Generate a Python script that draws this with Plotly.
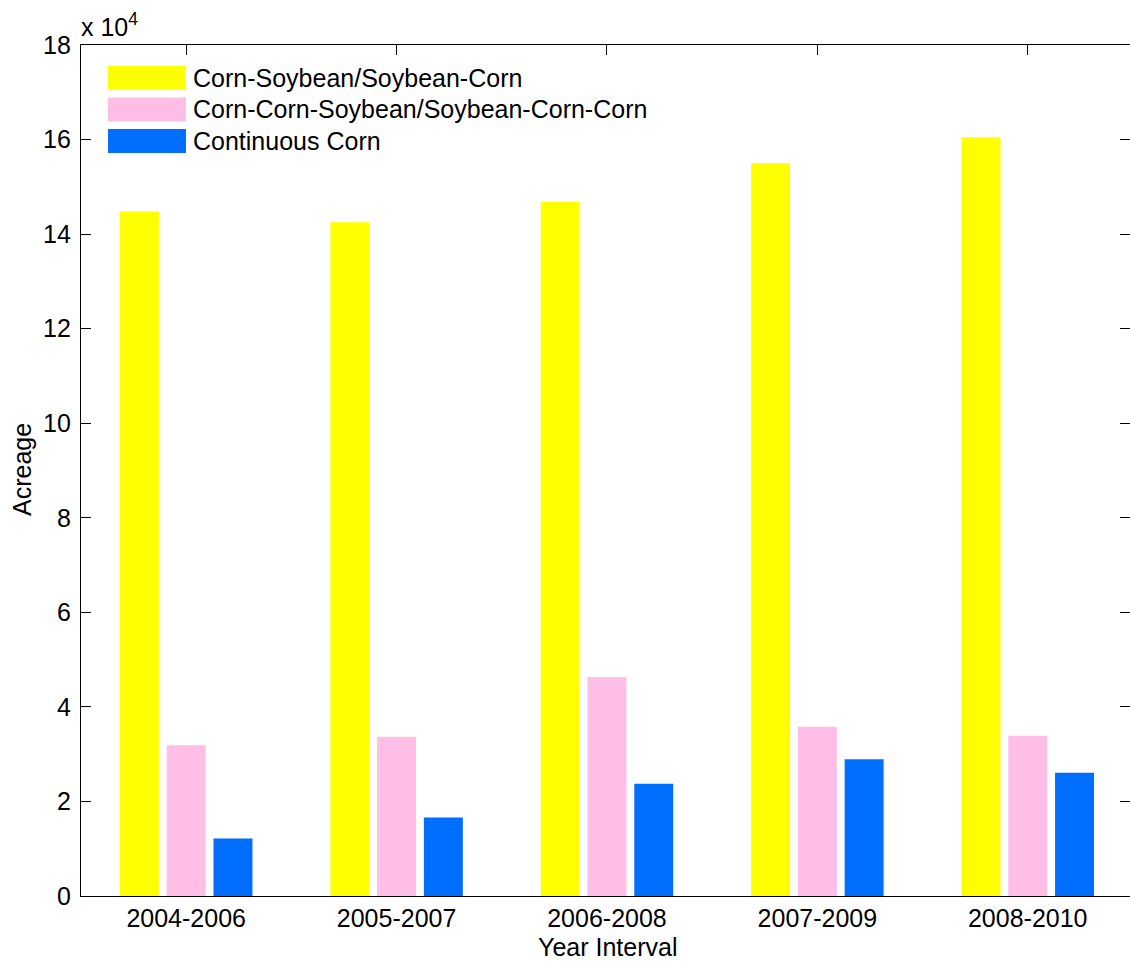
import plotly.graph_objects as go

categories = ["2004-2006", "2005-2007", "2006-2008", "2007-2009", "2008-2010"]
series_names = ["Corn-Soybean/Soybean-Corn",
                "Corn-Corn-Soybean/Soybean-Corn-Corn",
                "Continuous Corn"]
corn_soy = [144800, 142500, 146800, 155000, 160500]
corn_corn_soy = [31900, 33700, 46300, 35800, 33900]
continuous_corn = [12150, 16600, 23750, 28950, 26050]
series_values = [corn_soy, corn_corn_soy, continuous_corn]
colors = ["#FFFF00", "#FFBEE6", "#006EFF"]

y_tickvals = [0, 20000, 40000, 60000, 80000, 100000, 120000, 140000, 160000, 180000]
y_ticktext = ["0", "2", "4", "6", "8", "10", "12", "14", "16", "18"]

W, H = 1130, 964
ML, MR, MT, MB = 81, 0, 45, 68
PW = W - ML - MR
PH = H - MT - MB
FONT = "Liberation Sans, Arial, Helvetica, sans-serif"
FS = 25

def px_x(p):
    return (p - ML) / PW

def px_y(p):
    return (H - MB - p) / PH

fig = go.Figure()
for name, vals, col in zip(series_names, series_values, colors):
    fig.add_trace(go.Bar(x=categories, y=vals, name=name, marker_color=col,
                         marker_line_width=0, showlegend=False))

axis_common = dict(showline=True, linecolor="#000000", linewidth=1.2,
                   mirror="ticks", ticks="inside", ticklen=10, tickwidth=1,
                   tickcolor="#000000", showgrid=False, zeroline=False,
                   layer="below traces",
                   tickfont=dict(family=FONT, size=FS, color="#000000"))

fig.update_layout(
    width=W, height=H,
    margin=dict(l=ML, r=MR, t=MT, b=MB, pad=0),
    paper_bgcolor="white", plot_bgcolor="white",
    barmode="group", bargap=0.333, bargroupgap=0.167,
    showlegend=False,
    xaxis=dict(range=[-0.5, 4.486], **axis_common),
    yaxis=dict(range=[0, 180000], tickvals=y_tickvals, ticktext=y_ticktext,
               ticklabelstandoff=4, **axis_common),
    font=dict(family=FONT, size=FS, color="#000000"),
)

# legend (drawn manually to match the wide swatches)
row_centers = [78, 109.5, 141]
for name, col, yc in zip(series_names, colors, row_centers):
    fig.add_shape(type="rect", xref="paper", yref="paper",
                  x0=px_x(108), x1=px_x(186), y0=px_y(yc + 12), y1=px_y(yc - 12),
                  fillcolor=col, line_width=0, layer="above")
    fig.add_annotation(xref="paper", yref="paper", x=px_x(191), y=px_y(yc),
                       xanchor="left", yanchor="middle", text=name, showarrow=False,
                       font=dict(family=FONT, size=FS, color="#000000"))

# exponent label
fig.add_annotation(xref="paper", yref="paper", x=px_x(79), y=px_y(25),
                   xanchor="left", yanchor="middle", text="x 10<sup>4</sup>",
                   showarrow=False, font=dict(family=FONT, size=FS, color="#000000"))

# axis titles
fig.add_annotation(xref="paper", yref="paper", x=px_x(22), y=px_y(470),
                   xanchor="center", yanchor="middle", text="Acreage", textangle=-90,
                   showarrow=False, font=dict(family=FONT, size=FS, color="#000000"))
fig.add_annotation(xref="paper", yref="paper", x=px_x(607), y=px_y(947),
                   xanchor="center", yanchor="middle", text="Year Interval",
                   showarrow=False, font=dict(family=FONT, size=FS, color="#000000"))

fig.write_html("out.html")
